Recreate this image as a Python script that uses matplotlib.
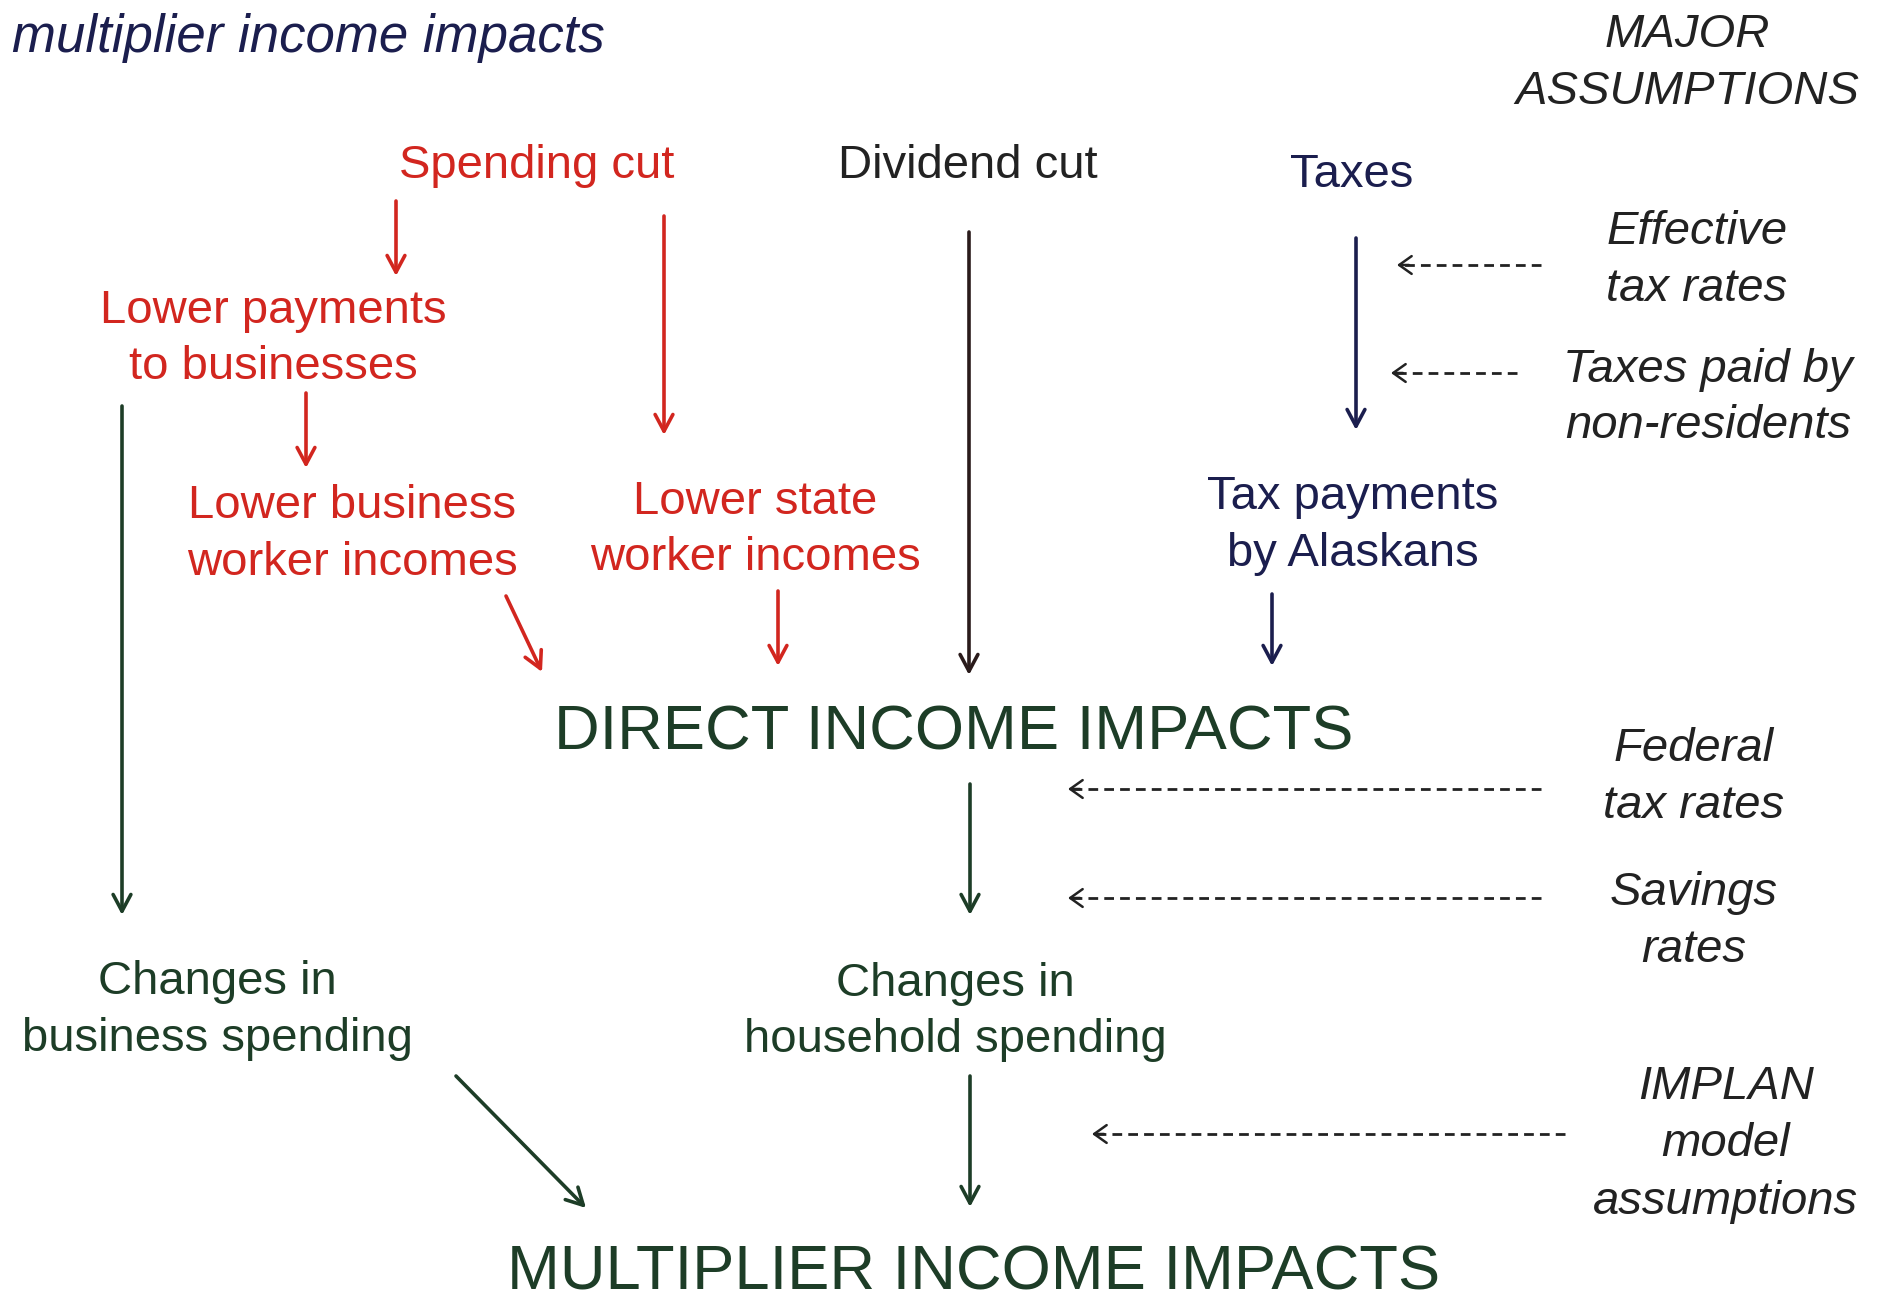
import matplotlib
matplotlib.use("Agg")
import matplotlib.pyplot as plt
from matplotlib.patches import FancyArrowPatch

plt.rcParams['font.family'] = ['Liberation Sans', 'DejaVu Sans']

RED = '#d2261f'
NAVY = '#1b1e4e'
GREEN = '#1d3d27'
DARK = '#222222'
BROWN = '#2a1b1b'

# labels: (lines, x centre, baselines, colour, italic)
label_lines = [
    (['Spending cut'], 537, [178], RED, False),
    (['Dividend cut'], 968, [178], DARK, False),
    (['Taxes'], 1352, [187], NAVY, False),
    (['Lower payments', 'to businesses'], 273, [323, 379], RED, False),
    (['Lower business', 'worker incomes'], 352, [518, 575], RED, False),
    (['Lower state', 'worker incomes'], 755, [514, 570], RED, False),
    (['Tax payments', 'by Alaskans'], 1353, [509, 566], NAVY, False),
    (['Changes in', 'business spending'], 217, [994, 1051], GREEN, False),
    (['Changes in', 'household spending'], 955, [996, 1052], GREEN, False),
    (['MAJOR', 'ASSUMPTIONS'], 1687, [47, 104], DARK, True),
    (['Effective', 'tax rates'], 1697, [244, 301], DARK, True),
    (['Taxes paid by', 'non-residents'], 1708, [382, 438], DARK, True),
    (['Federal', 'tax rates'], 1694, [761, 818], DARK, True),
    (['Savings', 'rates'], 1694, [905, 962], DARK, True),
    (['IMPLAN', 'model', 'assumptions'], 1726, [1099, 1156, 1214], DARK, True),
]

big_labels = [
    ('DIRECT INCOME IMPACTS', 954, 749),
    ('MULTIPLIER INCOME IMPACTS', 974, 1290),
]

# solid arrows: start, end, colour
solid_arrows = [
    ((396, 201), (396, 276), RED),
    ((664, 216), (664, 435), RED),
    ((306, 393), (306, 468), RED),
    ((506, 596), (542, 672), RED),
    ((778, 591), (778, 666), RED),
    ((969, 232), (969, 675), BROWN),
    ((1356, 238), (1356, 430), NAVY),
    ((1272, 594), (1272, 666), NAVY),
    ((122, 406), (122, 915), GREEN),
    ((970, 784), (970, 915), GREEN),
    ((456, 1076), (586, 1208), GREEN),
    ((970, 1076), (970, 1207), GREEN),
]

# dashed arrows from the assumptions: start x, end x, y
dashed_arrows = [
    (1541, 1397, 265),
    (1517, 1391, 373),
    (1541, 1068, 789),
    (1541, 1068, 898),
    (1565, 1092, 1134),
]

fig = plt.figure(figsize=(18.83, 13.02), dpi=100)
ax = fig.add_axes([0, 0, 1, 1])
ax.set_xlim(0, 1883)
ax.set_ylim(1302, 0)
ax.axis('off')

ax.text(12, 52, 'multiplier income impacts', fontsize=38, style='italic',
        color=NAVY, ha='left', va='baseline')

for lines, x, ys, col, ital in label_lines:
    for line, y in zip(lines, ys):
        ax.text(x, y, line, fontsize=34, color=col, ha='center', va='baseline',
                style='italic' if ital else 'normal')

for txt, x, y in big_labels:
    ax.text(x, y, txt, fontsize=45.5, color=GREEN, ha='center', va='baseline')

for (x0, y0), (x1, y1), col in solid_arrows:
    ax.add_patch(FancyArrowPatch((x0, y0), (x1, y1),
                                 arrowstyle='->,head_length=0.6,head_width=0.32',
                                 mutation_scale=20, lw=2.6, color=col,
                                 shrinkA=0, shrinkB=0))

for x0, x1, y in dashed_arrows:
    ax.plot([x0, x1 + 4], [y, y], color=DARK, lw=2.0, ls=(0, (3.5, 2.2)))
    ax.add_patch(FancyArrowPatch((x1 + 12, y), (x1, y),
                                 arrowstyle='->,head_length=0.45,head_width=0.32',
                                 mutation_scale=20, lw=1.8, color=DARK,
                                 shrinkA=0, shrinkB=0))

fig.savefig('out.png', dpi=100, facecolor='white')
